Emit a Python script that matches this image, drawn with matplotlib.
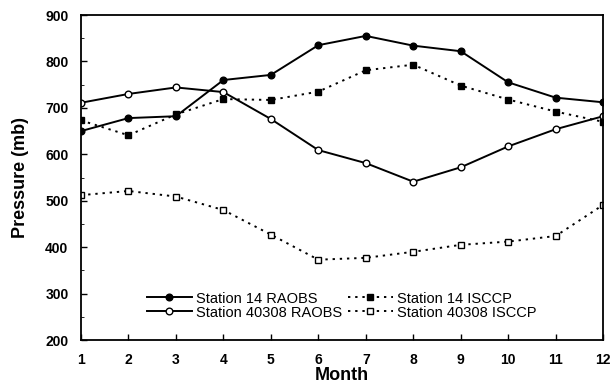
import matplotlib.pyplot as plt
from matplotlib.ticker import MultipleLocator

months = list(range(1, 13))
st14_raobs = [650, 678, 682, 760, 771, 835, 855, 834, 822, 755, 722, 712]
st14_isccp = [673, 641, 686, 719, 717, 735, 781, 793, 748, 718, 692, 670]
st40308_raobs = [711, 730, 744, 734, 676, 609, 581, 541, 572, 617, 654, 682]
st40308_isccp = [512, 521, 509, 480, 427, 373, 377, 390, 405, 412, 424, 491]

plt.rcParams['font.family'] = ['Liberation Sans', 'DejaVu Sans']

fig = plt.figure(figsize=(6.15, 3.91), dpi=100)
ax = fig.add_axes([0.1317, 0.1304, 0.849, 0.8312])

dots = (0, (1.2, 2.5))
ax.plot(months, st14_raobs, '-', color='black', lw=1.4, marker='o', ms=4.8,
        mfc='black', label='Station 14 RAOBS')
ax.plot(months, st14_isccp, linestyle=dots, color='black', lw=1.4, marker='s',
        ms=4.5, mfc='black', label='Station 14 ISCCP')
ax.plot(months, st40308_raobs, '-', color='black', lw=1.4, marker='o', ms=4.8,
        mfc='white', label='Station 40308 RAOBS')
ax.plot(months, st40308_isccp, linestyle=dots, color='black', lw=1.4, marker='s',
        ms=4.5, mfc='white', label='Station 40308 ISCCP')

ax.set_xlim(1, 12)
ax.set_ylim(200, 900)
ax.set_xticks(months)
ax.yaxis.set_major_locator(MultipleLocator(100))
ax.yaxis.set_minor_locator(MultipleLocator(50))
ax.tick_params(direction='in', length=4, width=1, labelsize=10)
ax.tick_params(which='minor', direction='in', length=2)
ax.tick_params(axis='x', pad=9)
ax.tick_params(axis='y', pad=9)
for lab in ax.get_xticklabels() + ax.get_yticklabels():
    lab.set_fontweight('bold')
for s in ax.spines.values():
    s.set_linewidth(1.3)

ax.set_xlabel('Month', fontsize=13, fontweight='bold', labelpad=0)
ax.set_ylabel('Pressure (mb)', fontsize=13, fontweight='bold', labelpad=12)

handles, labels = ax.get_legend_handles_labels()
order = [0, 2, 1, 3]
ax.legend([handles[i] for i in order], [labels[i] for i in order], ncol=2,
          frameon=False, loc='center', bbox_to_anchor=(0.499, 0.106),
          fontsize=10.5, handlelength=3.1, handletextpad=0.27, columnspacing=0.4,
          labelspacing=0.0, borderpad=0)

fig.savefig('out.png', dpi=100)
